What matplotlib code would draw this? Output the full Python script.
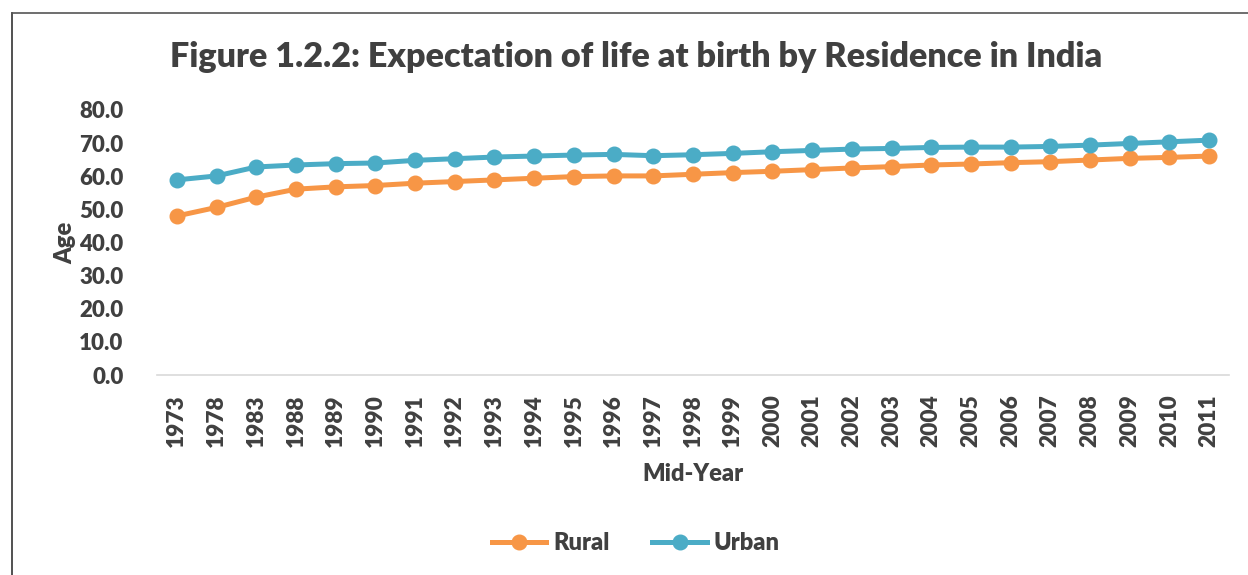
import matplotlib
matplotlib.use("Agg")
import matplotlib.pyplot as plt
from matplotlib.lines import Line2D

plt.rcParams['font.family'] = ['Lato', 'DejaVu Sans']

years = ["1973", "1978", "1983", "1988", "1989", "1990", "1991", "1992", "1993",
         "1994", "1995", "1996", "1997", "1998", "1999", "2000", "2001", "2002",
         "2003", "2004", "2005", "2006", "2007", "2008", "2009", "2010", "2011"]
rural = [48.0, 50.6, 53.7, 56.1, 56.8, 57.2, 57.9, 58.4, 58.9,
         59.4, 59.9, 60.1, 60.1, 60.6, 61.1, 61.5, 62.0, 62.5,
         62.9, 63.4, 63.7, 64.1, 64.4, 64.9, 65.4, 65.7, 66.1]
urban = [58.9, 60.1, 62.8, 63.4, 63.8, 64.0, 64.8, 65.3, 65.8,
         66.1, 66.4, 66.6, 66.2, 66.5, 66.9, 67.4, 67.8, 68.2,
         68.4, 68.7, 68.8, 68.8, 69.0, 69.4, 69.9, 70.4, 70.9]
yticks = [0, 10, 20, 30, 40, 50, 60, 70, 80]

title = "Figure 1.2.2: Expectation of life at birth by Residence in India"
c_rural = "#F79646"
c_urban = "#4BACC6"
txt = "#404040"
W = 'heavy'

fig = plt.figure(figsize=(12.48, 5.75), dpi=100)
ax = fig.add_axes([157/1248, 1-375/575, (1229-157)/1248, (375-110)/575])

x = list(range(len(years)))
ax.plot(x, rural, color=c_rural, lw=3.6, marker='o', ms=10.5, label="Rural")
ax.plot(x, urban, color=c_urban, lw=3.6, marker='o', ms=10.5, label="Urban")

ax.set_xlim(-0.5, len(years) - 0.5)
ax.set_ylim(0, 80)
ax.set_yticks(yticks)
ax.set_yticklabels([f"{v:.1f}" for v in yticks], fontsize=16, fontweight=W, color=txt)
ax.set_xticks(x)
ax.set_xticklabels(years, rotation=90, fontsize=16.3, fontweight=W, color=txt)
ax.tick_params(axis='both', length=0)
ax.tick_params(axis='y', pad=24)
ax.tick_params(axis='x', pad=14)
for s in ['top', 'right', 'left']:
    ax.spines[s].set_visible(False)
ax.spines['bottom'].set_color('#D9D9D9')
ax.spines['bottom'].set_linewidth(1.2)

ax.set_ylabel("Age", fontsize=17, fontweight=W, color=txt, labelpad=2)
ax.set_xlabel("Mid-Year", fontsize=17, fontweight=W, color=txt, labelpad=11)

fig.text(636/1248, 1-57/575, title, ha='center', va='center', fontsize=24.6,
         fontweight=W, color=txt)

handles = [Line2D([], [], color=c_rural, lw=3.6, marker='o', ms=10.5),
           Line2D([], [], color=c_urban, lw=3.6, marker='o', ms=10.5)]
fig.legend(handles, ["Rural", "Urban"], loc='center', bbox_to_anchor=(636/1248, 1-543/575),
           ncol=2, frameon=False, prop={'weight': W, 'size': 17},
           handlelength=2.3, columnspacing=1.8, handletextpad=0.3, labelcolor=txt)

# outer frame (top and left edges visible)
fig.add_artist(Line2D([12/1248, 12/1248], [0, 1-13/575], transform=fig.transFigure,
                      color='#333333', lw=1.2))
fig.add_artist(Line2D([12/1248, 1], [1-13/575, 1-13/575], transform=fig.transFigure,
                      color='#555555', lw=1.2))

fig.savefig("out.png", dpi=100)
